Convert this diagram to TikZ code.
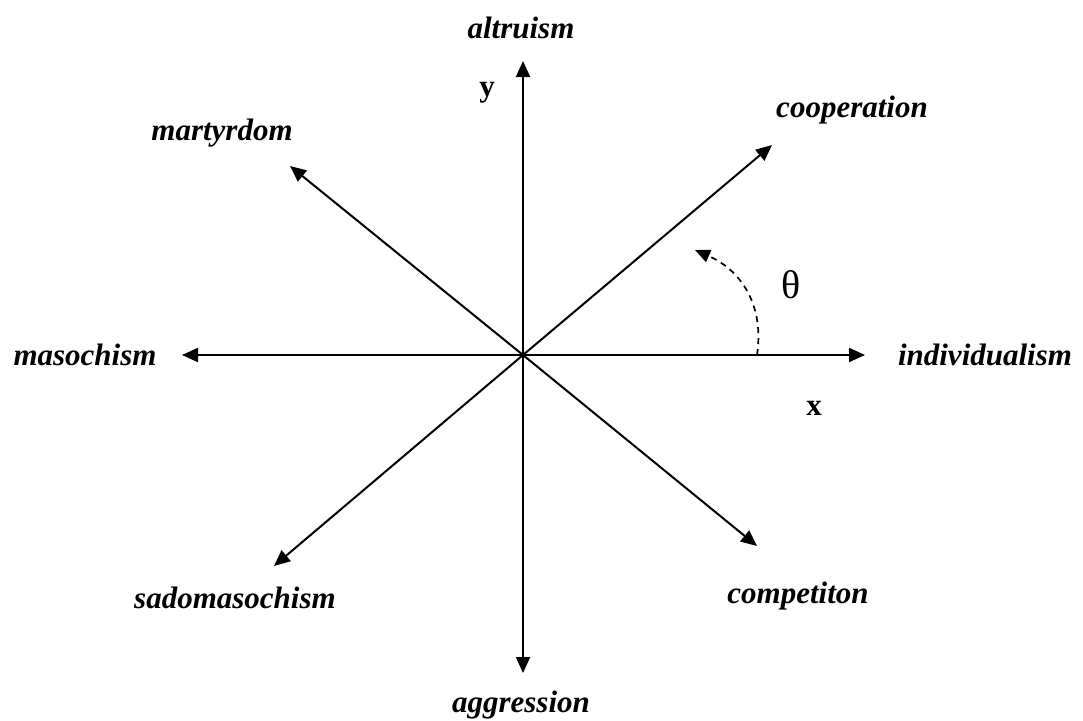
\documentclass[tikz,border=0pt]{standalone}
\usepackage{fontspec}
\setmainfont{Liberation Serif}
\usetikzlibrary{arrows.meta}

\begin{document}
\begin{tikzpicture}[
  x=1pt, y=-1pt,
  axis/.style = {-{Triangle[length=16pt,width=14pt]}, line width=2pt},
  lbl/.style  = {font=\fontsize{31}{36}\selectfont\bfseries\itshape,
                 inner sep=0pt},
  var/.style  = {font=\fontsize{31}{36}\selectfont\bfseries, inner sep=0pt},
  turn/.style = {-{Triangle[length=15pt,width=13pt]}, line width=1.7pt,
                 dash pattern=on 6pt off 5pt},
]
\useasboundingbox (0,0) rectangle (1083,720);

% origin and arrow tips
\coordinate (o)  at (523,355);
\coordinate (n)  at (523,61);
\coordinate (s)  at (523,673);
\coordinate (e)  at (865,355);
\coordinate (w)  at (182,355);
\coordinate (ne) at (772,145);
\coordinate (nw) at (290,166);
\coordinate (sw) at (274,566);
\coordinate (se) at (757,546);

\draw[axis] (o) -- (n);
\draw[axis] (o) -- (s);
\draw[axis] (o) -- (e);
\draw[axis] (o) -- (w);
\draw[axis] (o) -- (ne);
\draw[axis] (o) -- (nw);
\draw[axis] (o) -- (sw);
\draw[axis] (o) -- (se);

% labels
\node[lbl] (altr)  at (521,28)  {altruism};
\node[lbl] (aggr)  at (521,705) {aggression};
\node[lbl] (indiv) at (985,355) {individualism};
\node[lbl] (maso)  at (85,355)  {masochism};
\node[lbl] (coop)  at (852,110) {cooperation};
\node[lbl] (mart)  at (222,133) {martyrdom};
\node[lbl] (sado)  at (235,598) {sadomasochism};
\node[lbl] (comp)  at (798,596) {competiton};
\node[var] (ylab)  at (487,93)  {y};
\node[var] (xlab)  at (814,408) {x};
\node[font=\fontsize{40}{46}\selectfont, inner sep=0pt] (theta) at (791,285) {θ};

% angle
\coordinate (t0) at (757,355);
\coordinate (t1) at (695,250);
\draw[turn] (t0) .. controls (764,310) and (745,272) .. (t1);

\end{tikzpicture}
\end{document}
